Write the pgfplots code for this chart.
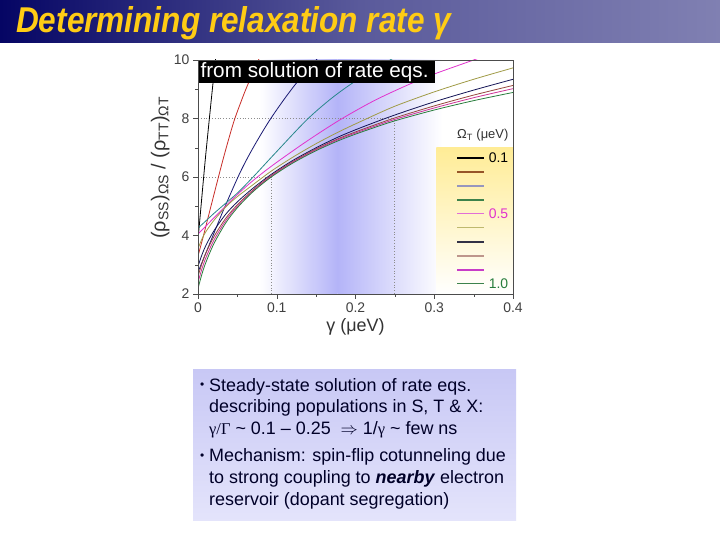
\documentclass[border=0pt]{standalone}
\usepackage{fontspec}
\setmainfont{Liberation Sans}
\newfontfamily\serifgr{Liberation Serif}
\usepackage{pgfplots}
\pgfplotsset{compat=1.18}

\definecolor{titleL}{RGB}{5,5,100}
\definecolor{titleM}{RGB}{90,90,155}
\definecolor{titleR}{RGB}{128,128,178}
\definecolor{titleY}{RGB}{255,204,20}
\definecolor{boxT}{RGB}{200,200,245}
\definecolor{boxB}{RGB}{228,228,251}
\definecolor{textC}{RGB}{0,0,40}
\definecolor{bandB}{RGB}{180,180,248}
\definecolor{legY}{RGB}{255,236,150}
% curve colours, Omega_T = 0.1 ... 1.0
\definecolor{c01}{RGB}{0,0,0}
\definecolor{c02}{RGB}{200,45,40}
\definecolor{c03}{RGB}{25,25,115}
\definecolor{c04}{RGB}{40,135,140}
\definecolor{c05}{RGB}{225,50,205}
\definecolor{c06}{RGB}{160,155,70}
\definecolor{c07}{RGB}{20,20,85}
\definecolor{c08}{RGB}{150,70,60}
\definecolor{c09}{RGB}{205,50,150}
\definecolor{c10}{RGB}{40,125,60}
% legend swatches as they appear in the key
\definecolor{l02}{RGB}{150,85,40}
\definecolor{l03}{RGB}{150,150,190}
\definecolor{l04}{RGB}{60,130,75}
\definecolor{l05}{RGB}{225,110,215}
\definecolor{l06}{RGB}{190,185,110}
\definecolor{l07}{RGB}{50,50,70}
\definecolor{l08}{RGB}{190,150,140}
\definecolor{l09}{RGB}{200,60,200}

\begin{document}
\begin{tikzpicture}[x=1bp,y=1bp]
\useasboundingbox (0,0) rectangle (720,540);
\fill[white] (0,0) rectangle (720,540);

% title bar
\shade[left color=titleL, right color=titleR, middle color=titleM] (0,497) rectangle (720,540);
\node[anchor=base west, inner sep=0, text=titleY] at (16,507)
  {\scalebox{0.88}[1]{\fontsize{36}{36}\selectfont\bfseries\itshape Determining relaxation rate γ}};

% text box
\shade[top color=boxT, bottom color=boxB] (193,19) rectangle (516,170);
\begin{scope}[every node/.style={anchor=base west, inner sep=0, text=textC, font=\fontsize{18}{18}\selectfont}]
\node[font=\fontsize{12}{12}\selectfont] at (200,151) {•};
\node at (209,148.5) {Steady-state solution of rate eqs.};
\node at (209,127) {describing populations in S, T \& X:};
\node at (209,105) {{\serifgr\fontsize{16.5}{16.5}\selectfont γ/Γ} \symbol{"7E} 0.1 – 0.25 \ $\Rightarrow$ 1/{\serifgr\fontsize{16.5}{16.5}\selectfont γ} \symbol{"7E} few ns};
\node[font=\fontsize{12}{12}\selectfont] at (200,80.5) {•};
\node at (209,78) {Mechanism: spin-flip cotunneling due};
\node at (209,56) {to strong coupling to \textbf{\textit{nearby}} electron};
\node at (209,34.5) {reservoir (dopant segregation)};
\end{scope}

\begin{axis}[
    at={(198bp,246bp)}, anchor=south west,
    width=315bp, height=234bp, scale only axis,
    xmin=0, xmax=0.4, ymin=2, ymax=10,
    axis on top,
    axis line style={black!70},
    tick pos=left, tick align=outside,
    xtick={0,0.1,0.2,0.3,0.4}, xticklabels={0,0.1,0.2,0.3,0.4},
    ytick={2,4,6,8,10},
    minor x tick num=1, minor y tick num=1,
    major tick length=5bp, minor tick length=3bp,
    tick style={black!70},
    /pgf/number format/assume math mode=true,
    ticklabel style={font=\fontsize{14}{14}\selectfont, text=black!75},
    xlabel={γ (μeV)},
    xlabel style={at={(axis description cs:0.5,-0.14)}, anchor=center, font=\fontsize{18}{18}\selectfont, text=black!80},
    ylabel={(ρ\textsubscript{SS})\textsubscript{ΩS} / (ρ\textsubscript{TT})\textsubscript{ΩT}},
    ylabel style={at={(axis description cs:-0.12,0.54)}, anchor=center, font=\fontsize{20}{20}\selectfont, text=black!80},
    every axis plot/.append style={line width=0.8bp},
]
% shaded gamma range
\addplot[draw=none, left color=white, right color=bandB, forget plot]
  coordinates {(0.078,2) (0.177,2) (0.177,10) (0.078,10)} -- cycle;
\addplot[draw=none, left color=bandB, right color=white, forget plot]
  coordinates {(0.177,2) (0.31,2) (0.31,10) (0.177,10)} -- cycle;
% legend background
\addplot[draw=none, top color=legY, bottom color=white, forget plot]
  coordinates {(0.3028,2) (0.4,2) (0.4,7.0) (0.3028,7.0)} -- cycle;
% guide lines
\addplot[black!45, dotted, line width=0.9bp] coordinates {(0,6) (0.0935,6) (0.0935,2)};
\addplot[black!45, dotted, line width=0.9bp] coordinates {(0,8) (0.25,8) (0.25,2)};

% curves
\addplot[c01, smooth] coordinates {(0,3.85)(0.0025,4.6)(0.0089,6.5)(0.015,8.15)(0.019,9.2)(0.022,9.95)(0.025,10.6)};
\addplot[c02, smooth] coordinates {(0,3.3)(0.0068,3.98)(0.0174,5.1)(0.032,6.62)(0.045,7.85)(0.055,8.6)(0.062,9.08)(0.072,9.7)(0.08,10.2)};
\addplot[c03, smooth] coordinates {(0,2.75)(0.0153,3.75)(0.032,4.85)(0.0534,6.15)(0.07,7.0)(0.09,7.9)(0.11,8.68)(0.1276,9.3)(0.15,10.0)(0.16,10.3)};
\addplot[c04, smooth] coordinates {(0,4.25)(0.01,4.5)(0.02,4.75)(0.035,5.1)(0.05,5.45)(0.07,6.0)(0.0958,6.75)(0.138,7.95)(0.17,8.7)(0.2,9.28)(0.235,9.85)(0.25,10.1)};
\addplot[c05, smooth] coordinates {(0,4.05)(0.01,4.32)(0.02,4.6)(0.035,5.0)(0.05,5.4)(0.07,5.88)(0.0958,6.42)(0.138,7.22)(0.18,7.95)(0.223,8.6)(0.265,9.13)(0.30,9.52)(0.35,10.0)(0.36,10.1)};
\addplot[c06, smooth] coordinates {(0,3.55)(0.005,3.88)(0.01,4.13)(0.02,4.51)(0.035,4.97)(0.05,5.33)(0.07,5.74)(0.093,6.20)(0.12,6.67)(0.15,7.14)(0.18,7.56)(0.21,7.94)(0.25,8.42)(0.3,8.91)(0.35,9.34)(0.4,9.73)};
\addplot[c07, smooth] coordinates {(0,2.95)(0.005,3.34)(0.01,3.66)(0.02,4.15)(0.035,4.72)(0.05,5.15)(0.07,5.62)(0.093,6.09)(0.12,6.56)(0.15,7.00)(0.18,7.39)(0.21,7.72)(0.25,8.12)(0.3,8.57)(0.35,8.97)(0.4,9.34)};
\addplot[c08, smooth] coordinates {(0,2.60)(0.005,3.04)(0.01,3.40)(0.02,3.95)(0.035,4.58)(0.05,5.05)(0.07,5.56)(0.093,6.05)(0.12,6.52)(0.15,6.96)(0.18,7.33)(0.21,7.64)(0.25,8.02)(0.3,8.43)(0.35,8.80)(0.4,9.13)};
\addplot[c09, smooth] coordinates {(0,2.40)(0.005,2.86)(0.01,3.24)(0.02,3.83)(0.035,4.50)(0.05,5.00)(0.07,5.53)(0.093,6.03)(0.12,6.50)(0.15,6.93)(0.18,7.30)(0.21,7.60)(0.25,7.97)(0.3,8.36)(0.35,8.71)(0.4,9.02)};
\addplot[c10, smooth] coordinates {(0,2.19)(0.005,2.68)(0.01,3.08)(0.02,3.71)(0.035,4.42)(0.05,4.95)(0.07,5.50)(0.093,6.00)(0.12,6.47)(0.15,6.90)(0.18,7.26)(0.21,7.56)(0.25,7.92)(0.3,8.29)(0.35,8.61)(0.4,8.89)};

% label box
\addplot[fill=black, draw=none, forget plot] coordinates {(0,10) (0.3015,10) (0.3015,9.21) (0,9.21)} -- cycle;
\node[anchor=base west, inner sep=0, text=white, font=\fontsize{20.8}{20.8}\selectfont] at (axis cs:0.003,9.4) {from solution of rate eqs.};

% legend
\node[anchor=base east, inner sep=0, text=black!80, font=\fontsize{13}{13}\selectfont] at (axis cs:0.3944,7.32) {Ω\textsubscript{T} (μeV)};
\addplot[c01, line width=1.8bp] coordinates {(0.3295,6.66)(0.3626,6.66)};
\addplot[l02, line width=1.8bp] coordinates {(0.3295,6.18)(0.3626,6.18)};
\addplot[l03, line width=1.8bp] coordinates {(0.3295,5.70)(0.3626,5.70)};
\addplot[l04, line width=1.8bp] coordinates {(0.3295,5.22)(0.3626,5.22)};
\addplot[l05, line width=1.8bp] coordinates {(0.3295,4.75)(0.3626,4.75)};
\addplot[l06, line width=1.8bp] coordinates {(0.3295,4.27)(0.3626,4.27)};
\addplot[l07, line width=1.8bp] coordinates {(0.3295,3.79)(0.3626,3.79)};
\addplot[l08, line width=1.8bp] coordinates {(0.3295,3.31)(0.3626,3.31)};
\addplot[l09, line width=1.8bp] coordinates {(0.3295,2.83)(0.3626,2.83)};
\addplot[l04, line width=1.8bp] coordinates {(0.3295,2.36)(0.3626,2.36)};
\node[anchor=west, inner sep=0, text=black, font=\fontsize{14}{14}\selectfont] at (axis cs:0.369,6.66) {0.1};
\node[anchor=west, inner sep=0, text=c05, font=\fontsize{14}{14}\selectfont] at (axis cs:0.369,4.75) {0.5};
\node[anchor=west, inner sep=0, text=c10, font=\fontsize{14}{14}\selectfont] at (axis cs:0.369,2.36) {1.0};
\end{axis}
\end{tikzpicture}
\end{document}
